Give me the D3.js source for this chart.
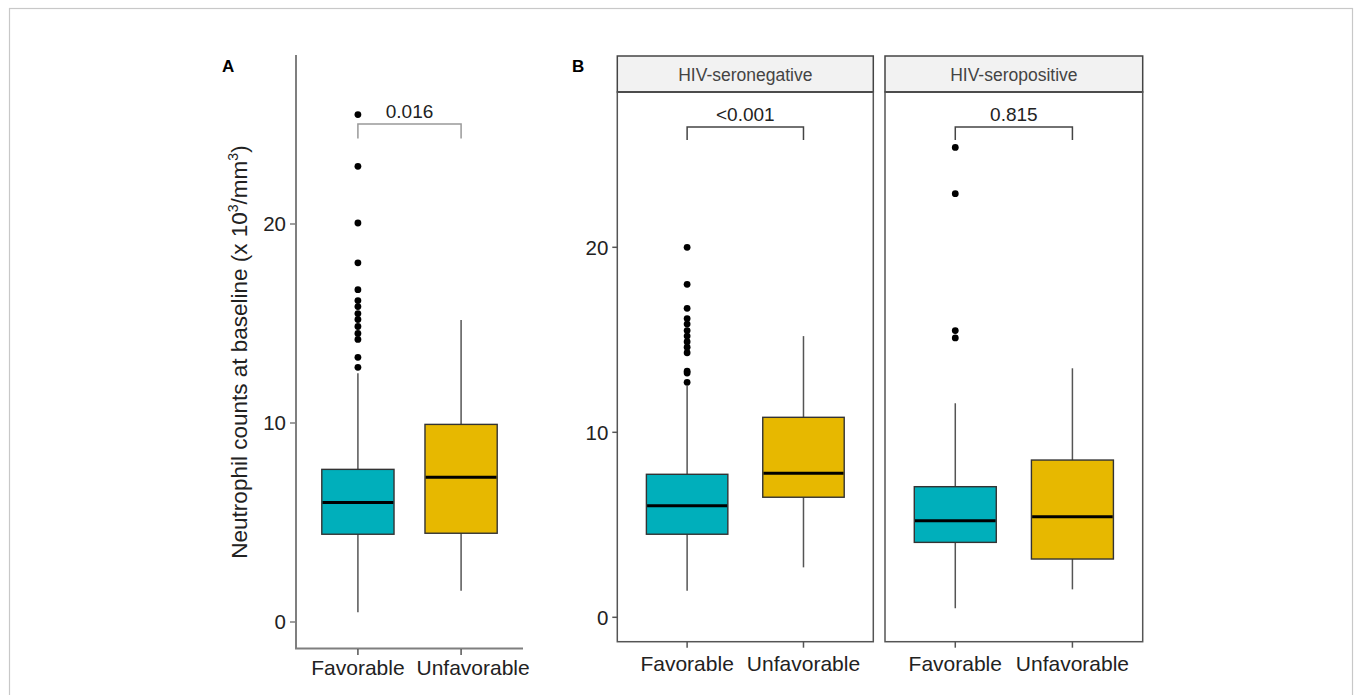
<!DOCTYPE html>
<html>
<head>
<meta charset="utf-8">
<script src="https://cdn.jsdelivr.net/npm/d3@7"></script>
<style>
    body { margin: 0; background: #fff; }
    svg text { font-family: "Liberation Sans", Arial, sans-serif; }
</style>
</head>
<body>
<svg class="neutrophilChart" width="1355" height="695"></svg>
<script>
// categories
const groups = ["Favorable", "Unfavorable"];
const yTicks = [0, 10, 20];
const facets = ["HIV-seronegative", "HIV-seropositive"];
const pValues = ["0.016", "<0.001", "0.815"];

// box statistics (lower whisker, Q1, median, Q3, upper whisker)
const boxesA = [
    {group: "Favorable",   lo: 0.49, q1: 4.41, med: 6.0,  q3: 7.67,  hi: 12.5},
    {group: "Unfavorable", lo: 1.57, q1: 4.46, med: 7.27, q3: 9.93,  hi: 15.18}
];
const boxesNeg = [
    {group: "Favorable",   lo: 1.44, q1: 4.49, med: 6.03, q3: 7.73,  hi: 12.5},
    {group: "Unfavorable", lo: 2.70, q1: 6.49, med: 7.78, q3: 10.81, hi: 15.2}
];
const boxesPos = [
    {group: "Favorable",   lo: 0.49, q1: 4.05, med: 5.22, q3: 7.06,  hi: 11.57},
    {group: "Unfavorable", lo: 1.51, q1: 3.15, med: 5.44, q3: 8.5,   hi: 13.46}
];

// outliers (all in the Favorable group)
const outliersA   = [25.5, 22.9, 20.05, 18.05, 16.7, 16.15, 15.85, 15.5, 15.2, 14.85, 14.5, 14.2, 13.3, 12.8];
const outliersNeg = [20.0, 18.0, 16.7, 16.15, 15.85, 15.5, 15.2, 14.9, 14.6, 14.3, 13.3, 13.2, 12.7];
const outliersPos = [25.4, 22.9, 15.5, 15.1];

const fills = {"Favorable": "#00AFBB", "Unfavorable": "#E7B800"};

const svg = d3.select(".neutrophilChart");

// outer frame
svg.append("rect")
    .attr("x", 9.5).attr("y", 8.5)
    .attr("width", 1343).attr("height", 720)
    .attr("fill", "none")
    .attr("stroke", "#c8c8c8")
    .attr("stroke-width", 1.2);

function drawBoxes(g, boxes, outliers, x, y) {
    const bw = x.step() * 0.7;

    // whiskers
    g.selectAll(".whisker")
        .data(boxes)
        .enter()
        .append("line")
            .attr("x1", d => x(d.group))
            .attr("x2", d => x(d.group))
            .attr("y1", d => y(d.lo))
            .attr("y2", d => y(d.hi))
            .attr("stroke", "#555")
            .attr("stroke-width", 1.5);

    g.selectAll(".box")
        .data(boxes)
        .enter()
        .append("rect")
            .attr("x", d => x(d.group) - bw / 2)
            .attr("width", bw)
            .attr("y", d => y(d.q3))
            .attr("height", d => y(d.q1) - y(d.q3))
            .attr("fill", d => fills[d.group])
            .attr("stroke", "#333")
            .attr("stroke-width", 1.4);

    g.selectAll(".median")
        .data(boxes)
        .enter()
        .append("line")
            .attr("x1", d => x(d.group) - bw / 2 + 0.7)
            .attr("x2", d => x(d.group) + bw / 2 - 0.7)
            .attr("y1", d => y(d.med))
            .attr("y2", d => y(d.med))
            .attr("stroke", "#000")
            .attr("stroke-width", 3);

    g.selectAll(".outlier")
        .data(outliers)
        .enter()
        .append("circle")
            .attr("cx", x("Favorable"))
            .attr("cy", d => y(d))
            .attr("r", 3.4)
            .attr("fill", "#000");
}

function drawBracket(g, x, y, top, foot, label, color) {
    const x1 = x(groups[0]), x2 = x(groups[1]);
    g.append("path")
        .attr("d", `M${x1},${y(foot)}V${y(top)}H${x2}V${y(foot)}`)
        .attr("fill", "none")
        .attr("stroke", color)
        .attr("stroke-width", 1.5);
    g.append("text")
        .attr("x", (x1 + x2) / 2)
        .attr("y", y(top) - 6)
        .attr("text-anchor", "middle")
        .style("font-size", "19px")
        .style("fill", "#222")
        .text(label);
}

function drawXLabels(g, x, yPos, tickTop, color, shift) {
    groups.forEach((c, i) => {
        g.append("line")
            .attr("x1", x(c)).attr("x2", x(c))
            .attr("y1", tickTop).attr("y2", tickTop + 6)
            .attr("stroke", color).attr("stroke-width", 1.5);
        g.append("text")
            .attr("x", x(c))
            .attr("dx", i === 1 ? shift : 0)
            .attr("y", yPos)
            .attr("text-anchor", "middle")
            .style("font-size", "21px")
            .style("fill", "#222")
            .text(c);
    });
}

function drawYTicks(g, y, axisX, color) {
    yTicks.forEach(t => {
        g.append("line")
            .attr("x1", axisX - 5).attr("x2", axisX)
            .attr("y1", y(t)).attr("y2", y(t))
            .attr("stroke", color).attr("stroke-width", 1.5);
        g.append("text")
            .attr("x", axisX - 9)
            .attr("y", y(t))
            .attr("dy", "0.36em")
            .attr("text-anchor", "end")
            .style("font-size", "20.5px")
            .style("fill", "#222")
            .text(t);
    });
}

// ---------- Panel A ----------
const gA = svg.append("g");
const xA = d3.scalePoint().domain(groups).range([296, 523]).padding(0.6);
const yA = d3.scaleLinear().domain([0, 20]).range([622, 224]);

gA.append("text")
    .attr("x", 222).attr("y", 72)
    .style("font-size", "17px").style("font-weight", "bold")
    .text("A");

// axis lines
gA.append("line")
    .attr("x1", 296).attr("x2", 296).attr("y1", 55).attr("y2", 649)
    .attr("stroke", "#7f7f7f").attr("stroke-width", 2);
gA.append("line")
    .attr("x1", 295).attr("x2", 523).attr("y1", 648.5).attr("y2", 648.5)
    .attr("stroke", "#7f7f7f").attr("stroke-width", 2);

drawYTicks(gA, yA, 295, "#7f7f7f");
drawXLabels(gA, xA, 675, 649, "#555", 12);
drawBoxes(gA, boxesA, outliersA, xA, yA);
drawBracket(gA, xA, yA, 25.03, 24.3, pValues[0], "#999");

// y axis title
const yTitle = gA.append("text")
    .attr("transform", "translate(247,352)rotate(-90)")
    .attr("text-anchor", "middle")
    .style("font-size", "22.5px")
    .style("fill", "#222");
yTitle.append("tspan").text("Neutrophil counts at baseline (x 10");
yTitle.append("tspan").attr("dy", -9).style("font-size", "14px").text("3");
yTitle.append("tspan").attr("dy", 9).text("/mm");
yTitle.append("tspan").attr("dy", -9).style("font-size", "14px").text("3");
yTitle.append("tspan").attr("dy", 9).text(")");

// ---------- Panel B ----------
const gB = svg.append("g");
const yB = d3.scaleLinear().domain([0, 20]).range([617.3, 247.3]);
const panelsB = [
    {name: facets[0], x0: 617.3, x1: 873.3, boxes: boxesNeg, outliers: outliersNeg, p: pValues[1]},
    {name: facets[1], x0: 885,   x1: 1142.7, boxes: boxesPos, outliers: outliersPos, p: pValues[2]}
];

gB.append("text")
    .attr("x", 572).attr("y", 72)
    .style("font-size", "17px").style("font-weight", "bold")
    .text("B");

panelsB.forEach((p, i) => {
    const x = d3.scalePoint().domain(groups).range([p.x0, p.x1]).padding(0.6);

    // strip
    gB.append("rect")
        .attr("x", p.x0).attr("y", 56)
        .attr("width", p.x1 - p.x0).attr("height", 36)
        .attr("fill", "#f2f2f2")
        .attr("stroke", "#444").attr("stroke-width", 1.5);
    gB.append("line")
        .attr("x1", p.x0).attr("x2", p.x1).attr("y1", 92).attr("y2", 92)
        .attr("stroke", "#333").attr("stroke-width", 2.2);
    gB.append("text")
        .attr("x", (p.x0 + p.x1) / 2).attr("y", 75)
        .attr("dy", "0.36em")
        .attr("text-anchor", "middle")
        .style("font-size", "17.5px")
        .style("fill", "#444")
        .text(p.name);

    // panel border
    gB.append("rect")
        .attr("x", p.x0).attr("y", 92)
        .attr("width", p.x1 - p.x0).attr("height", 641.7 - 92)
        .attr("fill", "none")
        .attr("stroke", "#555").attr("stroke-width", 1.5);

    if (i === 0) drawYTicks(gB, yB, p.x0, "#555");
    drawXLabels(gB, x, 671, 641.7, "#555", 0);
    drawBoxes(gB, p.boxes, p.outliers, x, yB);
    drawBracket(gB, x, yB, 26.5, 25.8, p.p, "#444");
});
</script>
</body>
</html>
